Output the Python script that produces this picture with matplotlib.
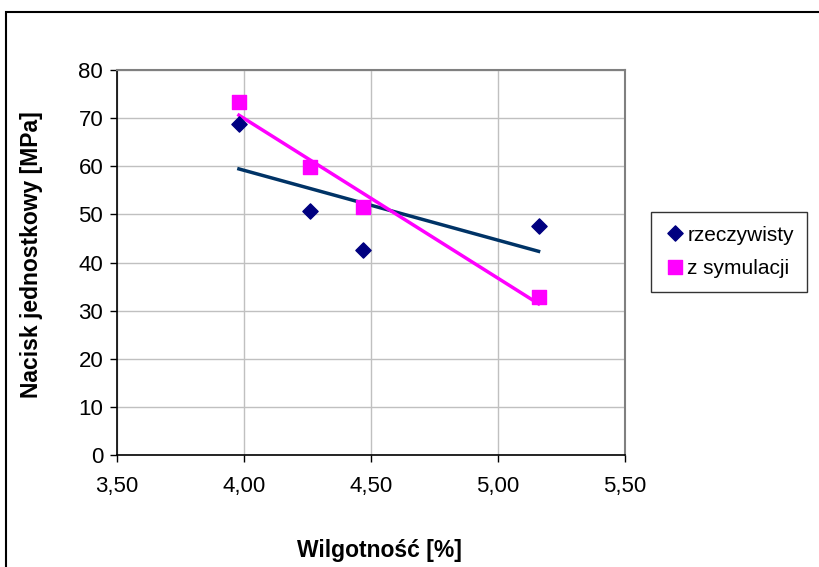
import numpy as np
import matplotlib.pyplot as plt
from matplotlib.patches import Rectangle

plt.rcParams["font.family"] = ["Liberation Sans", "DejaVu Sans"]

# dane
wilgotnosc = [3.98, 4.26, 4.47, 5.16]
rzeczywisty = [68.7, 50.8, 42.5, 47.5]
symulacja = [73.3, 59.9, 51.6, 32.9]
x_ticks = [3.5, 4.0, 4.5, 5.0, 5.5]
y_ticks = [0, 10, 20, 30, 40, 50, 60, 70, 80]

fig = plt.figure(figsize=(8.19, 5.67), dpi=100)
ax = fig.add_axes([0.1429, 0.1975, 0.6201, 0.679])

# ramka wykresu (jak w Excelu)
fig.patches.append(Rectangle((6 / 819, -0.1), 1.2, 1 - 12 / 567 + 0.1,
                             transform=fig.transFigure, fill=False,
                             edgecolor="black", linewidth=1.5))

x = np.array(wilgotnosc)
xx = np.array([x.min(), x.max()])

# linie trendu
p1 = np.polyfit(x, rzeczywisty, 1)
p2 = np.polyfit(x, symulacja, 1)
ax.plot(xx, np.polyval(p1, xx), color="#003366", linewidth=2.5, zorder=2)
ax.plot(xx, np.polyval(p2, xx), color="#FF00FF", linewidth=2.5, zorder=2)

ax.scatter(wilgotnosc, rzeczywisty, marker="D", s=60, color="#000080",
           label="rzeczywisty", zorder=3)
ax.scatter(wilgotnosc, symulacja, marker="s", s=110, color="#FF00FF",
           label="z symulacji", zorder=3)

ax.set_xlim(3.5, 5.5)
ax.set_ylim(0, 80)
ax.set_xticks(x_ticks)
ax.set_xticklabels([f"{v:.2f}".replace(".", ",") for v in x_ticks])
ax.set_yticks(y_ticks)
ax.tick_params(labelsize=16, direction="out", length=5, width=1, pad=10)
ax.tick_params(axis="y", pad=5)

ax.grid(True, color="#c0c0c0", linewidth=1)
ax.set_axisbelow(True)
for s in ["top", "right"]:
    ax.spines[s].set_color("#808080")
    ax.spines[s].set_linewidth(1.5)
for s in ["left", "bottom"]:
    ax.spines[s].set_color("black")
    ax.spines[s].set_linewidth(1.2)

fig.text(379 / 819, 1 - 550 / 567, "Wilgotność [%]", ha="center", va="center",
         fontsize=16.5, fontweight="bold")
fig.text(32 / 819, 1 - 255 / 567, "Nacisk jednostkowy [MPa]", ha="center",
         va="center", rotation=90, fontsize=16.5, fontweight="bold")

leg = fig.legend(loc="center", bbox_to_anchor=(729 / 819, 1 - 252 / 567),
                 fontsize=15, frameon=True, fancybox=False, handletextpad=0.1,
                 handlelength=1.0, labelspacing=0.7, borderpad=0.65,
                 borderaxespad=0, scatteryoffsets=[0.5])
leg.get_frame().set_edgecolor("black")
leg.get_frame().set_linewidth(1)

fig.savefig("out.png", dpi=100)
